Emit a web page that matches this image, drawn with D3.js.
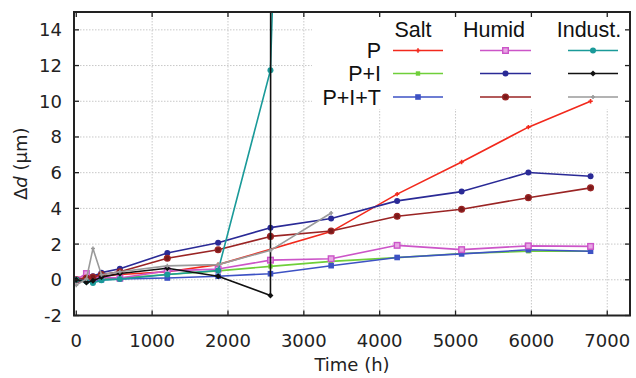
<!DOCTYPE html>
<html><head><meta charset="utf-8">
<script src="https://cdn.jsdelivr.net/npm/d3@7"></script>
<style>body{margin:0;background:#fff}svg{display:block}</style>
</head><body>
<svg id="c" width="636" height="378"></svg>
<script>
// ---- data ----
const xTicks = [0,1000,2000,3000,4000,5000,6000,7000];
const yTicks = [-2,0,2,4,6,8,10,12,14];
const groups = ["Salt","Humid","Indust."];
const rows = ["P","P+I","P+I+T"];

const saltP     = [[0,0],[134,0.15],[220,0.1],[332,0.2],[575,0.3],[1200,0.45],[1870,0.85],[3360,2.7],[4230,4.8],[5080,6.6],[5960,8.55],[6780,10.0]];
const saltPI    = [[0,0],[134,0.05],[220,0.0],[332,0.05],[575,0.1],[1200,0.3],[1870,0.5],[2560,0.75],[3360,1.03],[4230,1.24],[5080,1.47],[5960,1.6],[6780,1.6]];
const saltPIT   = [[0,0],[134,0.0],[220,-0.05],[332,0.0],[575,0.05],[1200,0.1],[1870,0.2],[2560,0.34],[3360,0.79],[4230,1.25],[5080,1.45],[5960,1.68],[6780,1.6]];
const humidP    = [[0,0],[134,0.35],[220,0.1],[332,0.15],[575,0.1],[1200,0.5],[1870,0.6],[2560,1.1],[3360,1.18],[4230,1.93],[5080,1.69],[5960,1.9],[6780,1.87]];
const humidPI   = [[0,0],[134,0.1],[220,0.2],[332,0.4],[575,0.62],[1200,1.5],[1870,2.08],[2560,2.92],[3360,3.43],[4230,4.42],[5080,4.94],[5960,6.01],[6780,5.8]];
const humidPIT  = [[0,0],[134,0.1],[220,0.15],[332,0.3],[575,0.45],[1200,1.21],[1870,1.68],[2560,2.43],[3360,2.73],[4230,3.56],[5080,3.95],[5960,4.6],[6780,5.15]];
const industP   = [[0,0],[134,-0.1],[220,-0.18],[332,-0.02],[575,0.04],[1200,0.3],[1870,0.52],[2560,11.74],[2620,20]];
const industPI  = [[0,0],[134,-0.15],[220,-0.05],[332,0.15],[575,0.35],[1200,0.65],[1870,0.2],[2560,-0.88],[2565,30]];
const industPIT = [[0,-0.3],[134,0.05],[220,1.75],[332,0.28],[575,0.45],[1200,0.78],[1870,0.85],[2560,1.65],[3360,3.74]];

const series = [
  {g:0,r:0,data:saltP,    color:"#f2291c", marker:"plus",   size:2.2},
  {g:0,r:1,data:saltPI,   color:"#6fcf3a", marker:"square", size:2.2},
  {g:0,r:2,data:saltPIT,  color:"#3d52c4", marker:"square", size:2.8},
  {g:1,r:0,data:humidP,   color:"#cc55c8", marker:"osquare",size:3.5},
  {g:1,r:1,data:humidPI,  color:"#2a2a96", marker:"circle", size:3},
  {g:1,r:2,data:humidPIT, color:"#9a2424", marker:"ocircle",size:3.5},
  {g:2,r:0,data:industP,  color:"#1a9a99", marker:"circle", size:3},
  {g:2,r:1,data:industPI, color:"#111111", marker:"diamond",size:3},
  {g:2,r:2,data:industPIT,color:"#9a9a9a", marker:"plus",   size:2}
];

// ---- layout ----
const L=74,R=630,T=12,B=315.5;
const svg=d3.select("#c");
const x=d3.scaleLinear().domain([-30,7300]).range([L,R]);
const y=d3.scaleLinear().domain([-2,15]).range([B,T]);
const font="DejaVu Sans, Verdana, sans-serif";

// grid
const grid=svg.append("g").attr("stroke","#c8c8c8").attr("stroke-width",1).attr("stroke-dasharray","1.5,1.5");
grid.selectAll("line.v").data(xTicks.filter(d=>d>0)).join("line")
  .attr("x1",d=>x(d)).attr("x2",d=>x(d)).attr("y1",T).attr("y2",B);
grid.selectAll("line.h").data(yTicks.filter(d=>d>-2)).join("line")
  .attr("x1",L).attr("x2",R).attr("y1",d=>y(d)).attr("y2",d=>y(d));

// legend background
svg.append("rect").attr("x",312).attr("y",T+1).attr("width",R-313).attr("height",96).attr("fill","#fff");

// clip
svg.append("clipPath").attr("id","clip").append("rect").attr("x",L).attr("y",T).attr("width",R-L).attr("height",B-T);

function drawMarker(g, s, cx, cy){
  const z=s.size;
  if(s.marker==="plus"){
    g.append("path").attr("d",`M${cx-z},${cy}H${cx+z}M${cx},${cy-z}V${cy+z}`).attr("stroke",s.color).attr("stroke-width",1.6).attr("fill","none");
  } else if(s.marker==="square"){
    g.append("rect").attr("x",cx-z).attr("y",cy-z).attr("width",2*z).attr("height",2*z).attr("fill",s.color);
  } else if(s.marker==="osquare"){
    g.append("rect").attr("x",cx-z+0.7).attr("y",cy-z+0.7).attr("width",2*z-1.4).attr("height",2*z-1.4).attr("fill","#e7a6e4").attr("stroke",s.color).attr("stroke-width",1.4);
  } else if(s.marker==="circle"){
    g.append("circle").attr("cx",cx).attr("cy",cy).attr("r",z).attr("fill",s.color);
  } else if(s.marker==="ocircle"){
    g.append("circle").attr("cx",cx).attr("cy",cy).attr("r",z-0.6).attr("fill","#7a1a1a").attr("stroke",s.color).attr("stroke-width",1.3);
  } else if(s.marker==="diamond"){
    g.append("path").attr("d",`M${cx},${cy-z}L${cx+z},${cy}L${cx},${cy+z}L${cx-z},${cy}Z`).attr("fill",s.color);
  }
}

const line=d3.line().x(d=>x(d[0])).y(d=>y(d[1]));
const plot=svg.append("g").attr("clip-path","url(#clip)");
series.forEach(s=>{
  plot.append("path").attr("d",line(s.data)).attr("fill","none").attr("stroke",s.color).attr("stroke-width",1.6).attr("stroke-linejoin","round");
  const mg=plot.append("g");
  s.data.forEach(d=>{ if(d[1]<=15) drawMarker(mg,s,x(d[0]),y(d[1])); });
});

// legend
const lg=svg.append("g");
const colX=[[393,443],[480,531],[568,618]];
const headX=[413,494,589];
const rowY=[50.5,73.5,97];
groups.forEach((gname,i)=>lg.append("text").attr("x",headX[i]).attr("y",37).attr("text-anchor","middle")
  .attr("font-family","Liberation Sans, Arial, sans-serif").attr("font-size",21.5).attr("fill","#111").text(gname));
rows.forEach((r,i)=>lg.append("text").attr("x",381).attr("y",rowY[i]+7.5).attr("text-anchor","end")
  .attr("font-family","Liberation Sans, Arial, sans-serif").attr("font-size",21.5).attr("fill","#111").text(r));
series.forEach(s=>{
  const [x1,x2]=colX[s.g], yy=rowY[s.r];
  lg.append("line").attr("x1",x1).attr("x2",x2).attr("y1",yy).attr("y2",yy).attr("stroke",s.color).attr("stroke-width",1.6);
  drawMarker(lg,s,(x1+x2)/2,yy);
});

// frame + ticks
const ax=svg.append("g").attr("stroke","#222").attr("stroke-width",1.3);
xTicks.forEach(t=>{
  ax.append("line").attr("x1",x(t)).attr("x2",x(t)).attr("y1",B).attr("y2",B-5);
  ax.append("line").attr("x1",x(t)).attr("x2",x(t)).attr("y1",T).attr("y2",T+5);
});
yTicks.forEach(t=>{
  ax.append("line").attr("x1",L).attr("x2",L+5).attr("y1",y(t)).attr("y2",y(t));
  ax.append("line").attr("x1",R).attr("x2",R-5).attr("y1",y(t)).attr("y2",y(t));
});
svg.append("rect").attr("x",L).attr("y",T).attr("width",R-L).attr("height",B-T).attr("fill","none").attr("stroke","#222").attr("stroke-width",2);

// tick labels
svg.append("g").selectAll("text").data(xTicks).join("text")
  .attr("x",d=>x(d)).attr("y",347).attr("text-anchor","middle")
  .attr("font-family",font).attr("font-size",18).attr("fill","#222").text(d=>d);
svg.append("g").selectAll("text").data(yTicks).join("text")
  .attr("x",62).attr("y",d=>y(d)+6.5).attr("text-anchor","end")
  .attr("font-family",font).attr("font-size",18).attr("fill","#222").text(d=>d);

// axis titles
svg.append("text").attr("x",(L+R)/2).attr("y",371).attr("text-anchor","middle")
  .attr("font-family",font).attr("font-size",18).attr("fill","#222").text("Time (h)");
const yl=svg.append("text").attr("transform",`translate(27,${(T+B)/2}) rotate(-90)`).attr("text-anchor","middle")
  .attr("font-family",font).attr("font-size",18).attr("fill","#222");
yl.append("tspan").text("Δ");
yl.append("tspan").attr("font-style","italic").text("d");
yl.append("tspan").text(" (μm)");
</script>
</body></html>
